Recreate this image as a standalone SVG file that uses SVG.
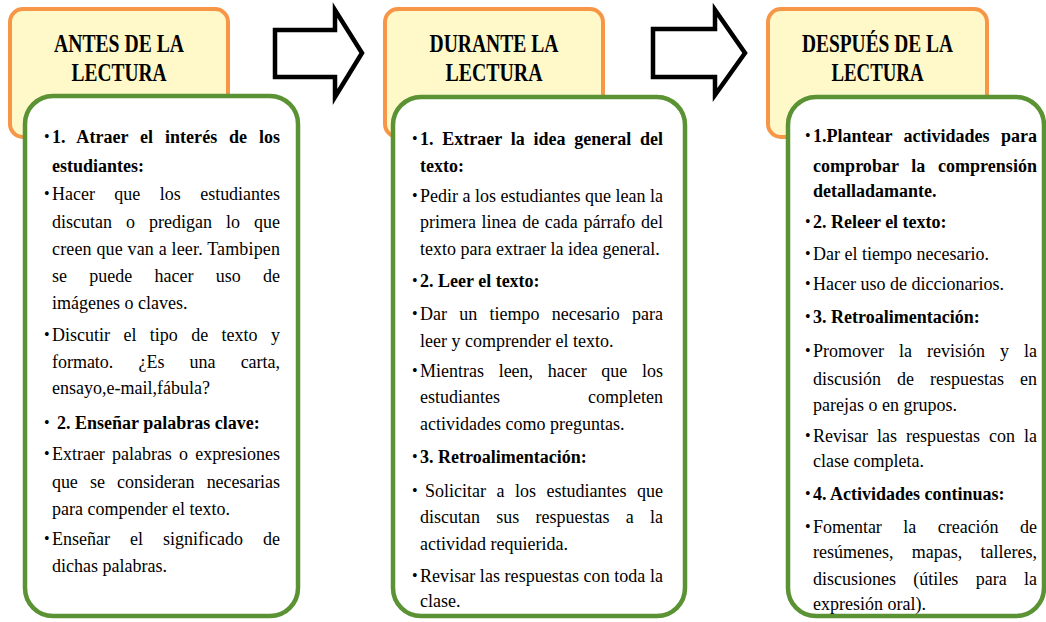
<svg xmlns="http://www.w3.org/2000/svg" width="1046" height="622" viewBox="0 0 1046 622">
<style>
.hdr{fill:#FFF8C8;stroke:#F79646;stroke-width:4}
.box{fill:#fff;stroke:#5A9234;stroke-width:4.5}
.arrow{fill:#fff;stroke:#000;stroke-width:4.5;stroke-linejoin:miter}
.h{font-family:"Liberation Serif",serif;font-weight:bold;font-size:25px;fill:#000;text-anchor:middle}
.t{font-family:"Liberation Serif",serif;font-size:18px;fill:#000}
.b{font-weight:bold}
.bul{font-family:"Liberation Serif",serif;font-size:16px;fill:#000}
</style>
<rect width="1046" height="622" fill="#fff"/>
<g id="connectors">
<path class="arrow" d="M275,30 H335 V10 L362,53 L335,97 V77 H275 Z"/>
<path class="arrow" d="M653,29 H715 V10 L745,53 L715,95 V77 H653 Z"/>
</g>
<g id="header-antes">
<rect class="hdr" x="10" y="9" width="218" height="128" rx="13"/>
<text class="h" x="119" y="52" textLength="130" lengthAdjust="spacingAndGlyphs">ANTES DE LA</text>
<text class="h" x="119" y="81" textLength="95" lengthAdjust="spacingAndGlyphs">LECTURA</text>
</g>
<g id="header-durante">
<rect class="hdr" x="385" y="9" width="218" height="128" rx="13"/>
<text class="h" x="494" y="52" textLength="129" lengthAdjust="spacingAndGlyphs">DURANTE LA</text>
<text class="h" x="494" y="81" textLength="97" lengthAdjust="spacingAndGlyphs">LECTURA</text>
</g>
<g id="header-despues">
<rect class="hdr" x="768" y="9" width="219" height="128" rx="13"/>
<text class="h" x="877.5" y="52" textLength="151" lengthAdjust="spacingAndGlyphs">DESPUÉS DE LA</text>
<text class="h" x="877.5" y="81" textLength="92" lengthAdjust="spacingAndGlyphs">LECTURA</text>
</g>
<g id="box-antes">
<rect class="box" x="25" y="96" width="273" height="520" rx="28"/>
<g class="bul">
<text x="44" y="142">•</text><text x="44" y="199">•</text><text x="44" y="340">•</text><text x="44" y="428">•</text><text x="44" y="459">•</text><text x="44" y="544">•</text>
</g>
<g class="t">
<text class="b" x="52" y="143" style="word-spacing:7.2px" textLength="228" lengthAdjust="spacing">1. Atraer el interés de los</text>
<text class="b" x="52" y="172">estudiantes:</text>
<text x="52" y="200" style="word-spacing:15px" textLength="228" lengthAdjust="spacing">Hacer que los estudiantes</text>
<text x="52" y="228" style="word-spacing:9.5px" textLength="228" lengthAdjust="spacing">discutan o predigan lo que</text>
<text x="52" y="255" textLength="228" lengthAdjust="spacing">creen que van a leer. Tambipen</text>
<text x="52" y="282" style="word-spacing:17.8px" textLength="228" lengthAdjust="spacing">se puede hacer uso de</text>
<text x="52" y="309">imágenes o claves.</text>
<text x="52" y="341" style="word-spacing:8.9px" textLength="228" lengthAdjust="spacing">Discutir el tipo de texto y</text>
<text x="52" y="368" style="word-spacing:20.7px" textLength="228" lengthAdjust="spacing">formato. ¿Es una carta,</text>
<text x="52" y="394">ensayo,e-mail,fábula?</text>
<text class="b" x="57" y="429">2. Enseñar palabras clave:</text>
<text x="52" y="460" style="word-spacing:2.7px" textLength="228" lengthAdjust="spacing">Extraer palabras o expresiones</text>
<text x="52" y="488" style="word-spacing:7.8px" textLength="228" lengthAdjust="spacing">que se consideran necesarias</text>
<text x="52" y="515">para compender el texto.</text>
<text x="52" y="545" style="word-spacing:15.5px" textLength="228" lengthAdjust="spacing">Enseñar el significado de</text>
<text x="52" y="572">dichas palabras.</text>
</g>
</g>
<g id="box-durante">
<rect class="box" x="393" y="97" width="292" height="519" rx="28"/>
<g class="bul">
<text x="412" y="144">•</text><text x="412" y="201">•</text><text x="412" y="286">•</text><text x="412" y="319">•</text><text x="412" y="376">•</text><text x="412" y="462">•</text><text x="412" y="496">•</text><text x="412" y="581">•</text>
</g>
<g class="t">
<text class="b" x="420" y="145" style="word-spacing:4.2px" textLength="243" lengthAdjust="spacing">1. Extraer la idea general del</text>
<text class="b" x="420" y="172">texto:</text>
<text x="420" y="202" textLength="243" lengthAdjust="spacing">Pedir a los estudiantes que lean la</text>
<text x="420" y="228" style="word-spacing:1.2px" textLength="243" lengthAdjust="spacing">primera linea de cada párrafo del</text>
<text x="420" y="255">texto para extraer la idea general.</text>
<text class="b" x="420" y="287">2. Leer el texto:</text>
<text x="420" y="320" style="word-spacing:7.8px" textLength="243" lengthAdjust="spacing">Dar un tiempo necesario para</text>
<text x="420" y="347">leer y comprender el texto.</text>
<text x="420" y="377" style="word-spacing:10.2px" textLength="243" lengthAdjust="spacing">Mientras leen, hacer que los</text>
<text x="420" y="403" style="word-spacing:83.5px" textLength="243" lengthAdjust="spacing">estudiantes completen</text>
<text x="420" y="430">actividades como preguntas.</text>
<text class="b" x="420" y="463">3. Retroalimentación:</text>
<text x="425" y="497" style="word-spacing:6px" textLength="238" lengthAdjust="spacing">Solicitar a los estudiantes que</text>
<text x="420" y="523" style="word-spacing:11.8px" textLength="243" lengthAdjust="spacing">discutan sus respuestas a la</text>
<text x="420" y="550">actividad requierida.</text>
<text x="420" y="582" textLength="243" lengthAdjust="spacing">Revisar las respuestas con toda la</text>
<text x="420" y="607">clase.</text>
</g>
</g>
<g id="box-despues">
<rect class="box" x="788" y="97" width="256" height="519" rx="28"/>
<g class="bul">
<text x="805" y="141">•</text><text x="805" y="227">•</text><text x="805" y="259">•</text><text x="805" y="289">•</text><text x="805" y="322">•</text><text x="805" y="356">•</text><text x="805" y="441">•</text><text x="805" y="499">•</text><text x="805" y="532">•</text>
</g>
<g class="t">
<text class="b" x="813" y="142" style="word-spacing:7px" textLength="224" lengthAdjust="spacing">1.Plantear actividades para</text>
<text class="b" x="813" y="172" style="word-spacing:8px" textLength="224" lengthAdjust="spacing">comprobar la comprensión</text>
<text class="b" x="813" y="197">detalladamante.</text>
<text class="b" x="813" y="228">2. Releer el texto:</text>
<text x="813" y="260">Dar el tiempo necesario.</text>
<text x="813" y="290">Hacer uso de diccionarios.</text>
<text class="b" x="813" y="323">3. Retroalimentación:</text>
<text x="813" y="357" style="word-spacing:10.5px" textLength="224" lengthAdjust="spacing">Promover la revisión y la</text>
<text x="813" y="385" style="word-spacing:11.5px" textLength="224" lengthAdjust="spacing">discusión de respuestas en</text>
<text x="813" y="411">parejas o en grupos.</text>
<text x="813" y="442" style="word-spacing:4.5px" textLength="224" lengthAdjust="spacing">Revisar las respuestas con la</text>
<text x="813" y="467">clase completa.</text>
<text class="b" x="813" y="500">4. Actividades continuas:</text>
<text x="813" y="533" style="word-spacing:17px" textLength="224" lengthAdjust="spacing">Fomentar la creación de</text>
<text x="813" y="558" style="word-spacing:13.8px" textLength="224" lengthAdjust="spacing">resúmenes, mapas, talleres,</text>
<text x="813" y="585" style="word-spacing:12.8px" textLength="224" lengthAdjust="spacing">discusiones (útiles para la</text>
<text x="813" y="610">expresión oral).</text>
</g>
</g>
</svg>
